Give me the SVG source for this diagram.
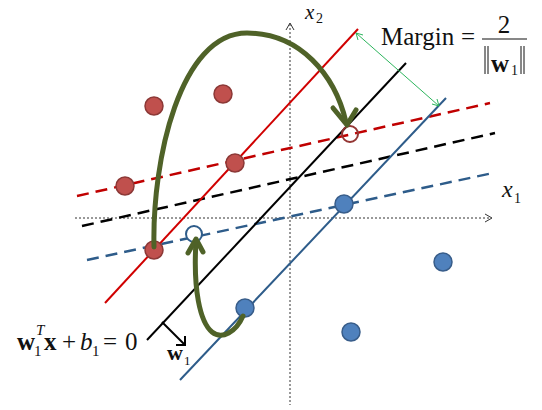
<svg xmlns="http://www.w3.org/2000/svg" width="542" height="410" viewBox="0 0 542 410">
<style>
.axis{stroke:#333;stroke-width:1;stroke-dasharray:2,2;fill:none}
.axhead{stroke:#333;stroke-width:1;fill:none}
.solid{stroke-width:2;fill:none}
.dash{stroke-width:2.5;fill:none;stroke-dasharray:12,7}
.rp{fill:#C0504D;stroke:#8C3836;stroke-width:1.5}
.bp{fill:#4F81BD;stroke:#385D8A;stroke-width:1.5}
.arc{stroke:#4F6228;stroke-width:5;fill:none;stroke-linecap:round;stroke-linejoin:round}
.t{font-family:"Liberation Serif","Times New Roman",serif;fill:#111}
</style>
<rect width="542" height="410" fill="#fff"/>
<g id="axes">
<line class="axis" x1="290" y1="24" x2="290" y2="405"/>
<polyline class="axhead" points="286,30 290,23 294,30"/>
<line class="axis" x1="75" y1="218" x2="491" y2="218"/>
<polyline class="axhead" points="485,214 492,218 485,222"/>
</g>
<g id="lines">
<line class="dash" stroke="#C00000" x1="77" y1="196" x2="490" y2="103"/>
<line class="dash" stroke="#000" x1="82" y1="226" x2="495" y2="133"/>
<line class="dash" stroke="#2E5C8A" x1="87" y1="260" x2="493" y2="173"/>
<line class="solid" stroke="#D00000" x1="105" y1="303" x2="358" y2="29"/>
<line class="solid" stroke="#000" x1="147" y1="340" x2="406" y2="63"/>
<line class="solid" stroke="#2E5C8A" x1="180" y1="380" x2="446" y2="98"/>
</g>
<g id="red-points">
<circle class="rp" cx="154" cy="106" r="9"/>
<circle class="rp" cx="223" cy="94" r="9"/>
<circle class="rp" cx="235" cy="163" r="9"/>
<circle class="rp" cx="125" cy="186" r="9"/>
<circle class="rp" cx="154" cy="250" r="9"/>
<circle cx="350" cy="134" r="8" fill="none" stroke="#943634" stroke-width="2"/>
</g>
<g id="blue-points">
<circle class="bp" cx="344" cy="204" r="9"/>
<circle class="bp" cx="443" cy="262" r="9"/>
<circle class="bp" cx="351" cy="332" r="9"/>
<circle class="bp" cx="245" cy="308" r="9"/>
<circle cx="194" cy="234" r="8" fill="#fff" stroke="#2E5C8A" stroke-width="2"/>
</g>
<g id="connectors">
<path class="arc" d="M154,247 C152,160 180,33 247,33 C300,33 335,75 346,122"/>
<polyline class="arc" points="333,108 347,125 356,110"/>
<path class="arc" d="M243,316 C236,332 222,340 212,332 C200,322 193,290 196,241"/>
<polyline class="arc" points="188,253 196,239 203,252"/>
<line x1="356" y1="33" x2="439" y2="106" stroke="#2DB55D" stroke-width="1"/>
<polyline points="358,40 356,33 363,35" fill="none" stroke="#2DB55D" stroke-width="1"/>
<polyline points="432,104 439,106 437,99" fill="none" stroke="#2DB55D" stroke-width="1"/>
<polyline points="162,322 185,345" fill="none" stroke="#000" stroke-width="2"/>
<polyline points="176,345 185,345 185,336" fill="none" stroke="#000" stroke-width="2"/>
</g>
<g id="labels">
<text class="t" font-size="21" font-style="italic" x="305" y="19">x</text>
<text class="t" font-size="14" x="316" y="23">2</text>
<text class="t" font-size="24" font-style="italic" x="502" y="197">x</text>
<text class="t" font-size="14" x="514" y="203">1</text>
<text class="t" font-size="25" x="381" y="45">Margin</text>
<text class="t" font-size="25" x="461" y="45">=</text>
<text class="t" font-size="25" x="504" y="33" text-anchor="middle">2</text>
<line x1="482" y1="39" x2="527" y2="39" stroke="#111" stroke-width="1.2"/>
<g stroke="#111" stroke-width="1">
<line x1="485" y1="46" x2="485" y2="74"/><line x1="488" y1="46" x2="488" y2="74"/>
<line x1="521" y1="46" x2="521" y2="74"/><line x1="524" y1="46" x2="524" y2="74"/>
</g>
<text class="t" font-size="25" font-weight="bold" x="491" y="72">w</text>
<text class="t" font-size="14" x="511" y="75">1</text>
<text class="t" font-size="25" font-weight="bold" x="17" y="350">w</text>
<text class="t" font-size="15" x="34" y="356">1</text>
<text class="t" font-size="15" font-style="italic" x="36" y="335">T</text>
<text class="t" font-size="25" font-weight="bold" x="44" y="350">x</text>
<text class="t" font-size="25" x="62" y="350">+</text>
<text class="t" font-size="25" font-style="italic" x="80" y="350">b</text>
<text class="t" font-size="15" x="92" y="356">1</text>
<text class="t" font-size="25" x="103" y="350">=</text>
<text class="t" font-size="25" x="125" y="350">0</text>
<text class="t" font-size="22" font-weight="bold" x="167" y="360">w</text>
<text class="t" font-size="13" x="184" y="365">1</text>
</g>
</svg>
